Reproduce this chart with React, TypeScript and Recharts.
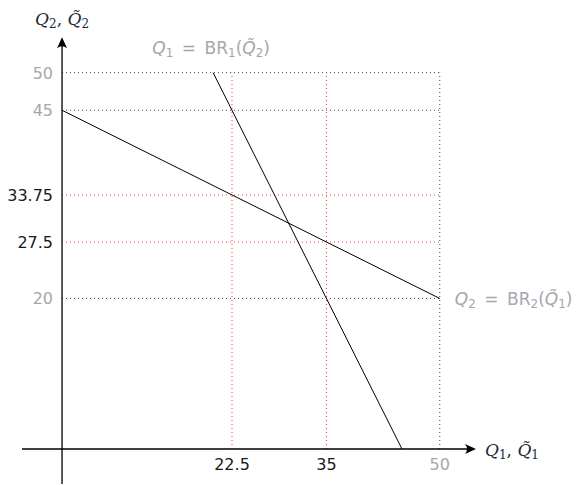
import React from "react";
import { LineChart, Line, XAxis, YAxis, ReferenceLine, ReferenceDot } from "recharts";

const br1 = [
  { q1: 20, q2: 50 },
  { q1: 45, q2: 0 },
];
const br2 = [
  { q1: 0, q2: 45 },
  { q1: 50, q2: 20 },
];
const redX = [22.5, 35];
const redY = [33.75, 27.5];
const grayY = [50, 45, 20];
const grayX = [50];
const yTicks = [
  { v: 50, dark: false },
  { v: 45, dark: false },
  { v: 33.75, dark: true },
  { v: 27.5, dark: true },
  { v: 20, dark: false },
];
const xTicks = [
  { v: 22.5, dark: true },
  { v: 35, dark: true },
  { v: 50, dark: false },
];
const X_DOMAIN: [number, number] = [-5.3, 54.8];
const Y_DOMAIN: [number, number] = [-4.65, 55];
const GUIDE_MAX = 50;

const FONT = "DejaVu Sans";
const SERIF = "DejaVu Serif";
const GRAY = "#a6a6ae";
const DARK = "#1a1a1a";
const NAVY = "#1c2a38";
const RED = "#f03c3c";
const EN = "\u2002";

const Sub = ({ children }: { children: React.ReactNode }) => (
  <tspan fontSize={12} fontStyle="normal" dy={3}>
    {children}
  </tspan>
);

const App = () => {
  return (
    <div style={{ position: "absolute", left: 0, top: 0, width: 582, height: 485 }}>
      <LineChart
        width={582}
        height={485}
        margin={{ top: 35, right: 106, bottom: 1, left: 22 }}
      >
        <XAxis type="number" dataKey="q1" domain={X_DOMAIN} allowDataOverflow hide />
        <YAxis type="number" dataKey="q2" domain={Y_DOMAIN} allowDataOverflow hide />

        {grayY.map((v) => (
          <ReferenceLine
            key={"gy" + v}
            segment={[{ x: 0, y: v }, { x: GUIDE_MAX, y: v }]}
            stroke="#444"
            strokeDasharray="1 3"
            ifOverflow="visible"
          />
        ))}
        {grayX.map((v) => (
          <ReferenceLine
            key={"gx" + v}
            segment={[{ x: v, y: 0 }, { x: v, y: GUIDE_MAX }]}
            stroke="#444"
            strokeDasharray="1 3"
            ifOverflow="visible"
          />
        ))}
        {redY.map((v) => (
          <ReferenceLine
            key={"ry" + v}
            segment={[{ x: 0, y: v }, { x: GUIDE_MAX, y: v }]}
            stroke={RED}
            strokeDasharray="1 3"
            ifOverflow="visible"
          />
        ))}
        {redX.map((v) => (
          <ReferenceLine
            key={"rx" + v}
            segment={[{ x: v, y: 0 }, { x: v, y: GUIDE_MAX }]}
            stroke={RED}
            strokeDasharray="1 3"
            ifOverflow="visible"
          />
        ))}

        <ReferenceLine
          segment={[{ x: X_DOMAIN[0], y: 0 }, { x: 54.2, y: 0 }]}
          stroke="#000"
          strokeWidth={1.3}
          ifOverflow="visible"
        />
        <ReferenceLine
          segment={[{ x: 0, y: Y_DOMAIN[0] }, { x: 0, y: 54.3 }]}
          stroke="#000"
          strokeWidth={1.3}
          ifOverflow="visible"
        />

        <Line data={br2} dataKey="q2" stroke="#000" strokeWidth={1} dot={false} isAnimationActive={false} />
        <Line data={br1} dataKey="q2" stroke="#000" strokeWidth={1} dot={false} isAnimationActive={false} />

        <ReferenceDot
          x={X_DOMAIN[1]}
          y={0}
          ifOverflow="visible"
          shape={(p: any) => (
            <g>
              <path
                d={`M${p.cx},${p.cy} L${p.cx - 11},${p.cy - 5} Q${p.cx - 7},${p.cy} ${p.cx - 11},${p.cy + 5} Z`}
                fill="#000"
              />
              <text x={p.cx + 9} y={p.cy + 7} fontFamily={SERIF} fontSize={17} fill={NAVY}>
                <tspan fontStyle="italic">Q</tspan>
                <Sub>1</Sub>
                <tspan dy={-3}>, </tspan>
                <tspan fontStyle="italic">{"Q\u0303"}</tspan>
                <Sub>1</Sub>
              </text>
            </g>
          )}
        />
        <ReferenceDot
          x={0}
          y={Y_DOMAIN[1] - 0.3}
          ifOverflow="visible"
          shape={(p: any) => (
            <g>
              <path
                d={`M${p.cx},${p.cy} L${p.cx - 5},${p.cy + 11} Q${p.cx},${p.cy + 7} ${p.cx + 5},${p.cy + 11} Z`}
                fill="#000"
              />
              <text x={p.cx} y={p.cy - 12} textAnchor="middle" fontFamily={SERIF} fontSize={17} fill={NAVY}>
                <tspan fontStyle="italic">Q</tspan>
                <Sub>2</Sub>
                <tspan dy={-3}>, </tspan>
                <tspan fontStyle="italic">{"Q\u0303"}</tspan>
                <Sub>2</Sub>
              </text>
            </g>
          )}
        />

        <ReferenceDot
          x={br1[0].q1}
          y={br1[0].q2}
          ifOverflow="visible"
          shape={(p: any) => (
            <text x={p.cx - 2} y={p.cy - 19} textAnchor="middle" fontFamily={FONT} fontSize={17} fill={GRAY}>
              <tspan fontStyle="italic">Q</tspan>
              <Sub>1</Sub>
              <tspan dy={-3}>{EN + "=" + EN + "BR"}</tspan>
              <Sub>1</Sub>
              <tspan dy={-3}>(</tspan>
              <tspan fontStyle="italic">{"Q\u0303"}</tspan>
              <Sub>2</Sub>
              <tspan dy={-3}>)</tspan>
            </text>
          )}
        />
        <ReferenceDot
          x={br2[1].q1}
          y={br2[1].q2}
          ifOverflow="visible"
          shape={(p: any) => (
            <text x={p.cx + 15} y={p.cy + 7} fontFamily={FONT} fontSize={17} fill={GRAY}>
              <tspan fontStyle="italic">Q</tspan>
              <Sub>2</Sub>
              <tspan dy={-3}>{EN + "=" + EN + "BR"}</tspan>
              <Sub>2</Sub>
              <tspan dy={-3}>(</tspan>
              <tspan fontStyle="italic">{"Q\u0303"}</tspan>
              <Sub>1</Sub>
              <tspan dy={-3}>)</tspan>
            </text>
          )}
        />

        {yTicks.map((t) => (
          <ReferenceDot
            key={"yt" + t.v}
            x={0}
            y={t.v}
            ifOverflow="visible"
            shape={(p: any) => (
              <text x={p.cx - 9} y={p.cy + 6} textAnchor="end" fontFamily={FONT} fontSize={16} fill={t.dark ? DARK : GRAY}>
                {String(t.v)}
              </text>
            )}
          />
        ))}
        {xTicks.map((t) => (
          <ReferenceDot
            key={"xt" + t.v}
            x={t.v}
            y={0}
            ifOverflow="visible"
            shape={(p: any) => (
              <text x={p.cx} y={p.cy + 21} textAnchor="middle" fontFamily={FONT} fontSize={16} fill={t.dark ? DARK : GRAY}>
                {String(t.v)}
              </text>
            )}
          />
        ))}
      </LineChart>
    </div>
  );
};

export default App;
